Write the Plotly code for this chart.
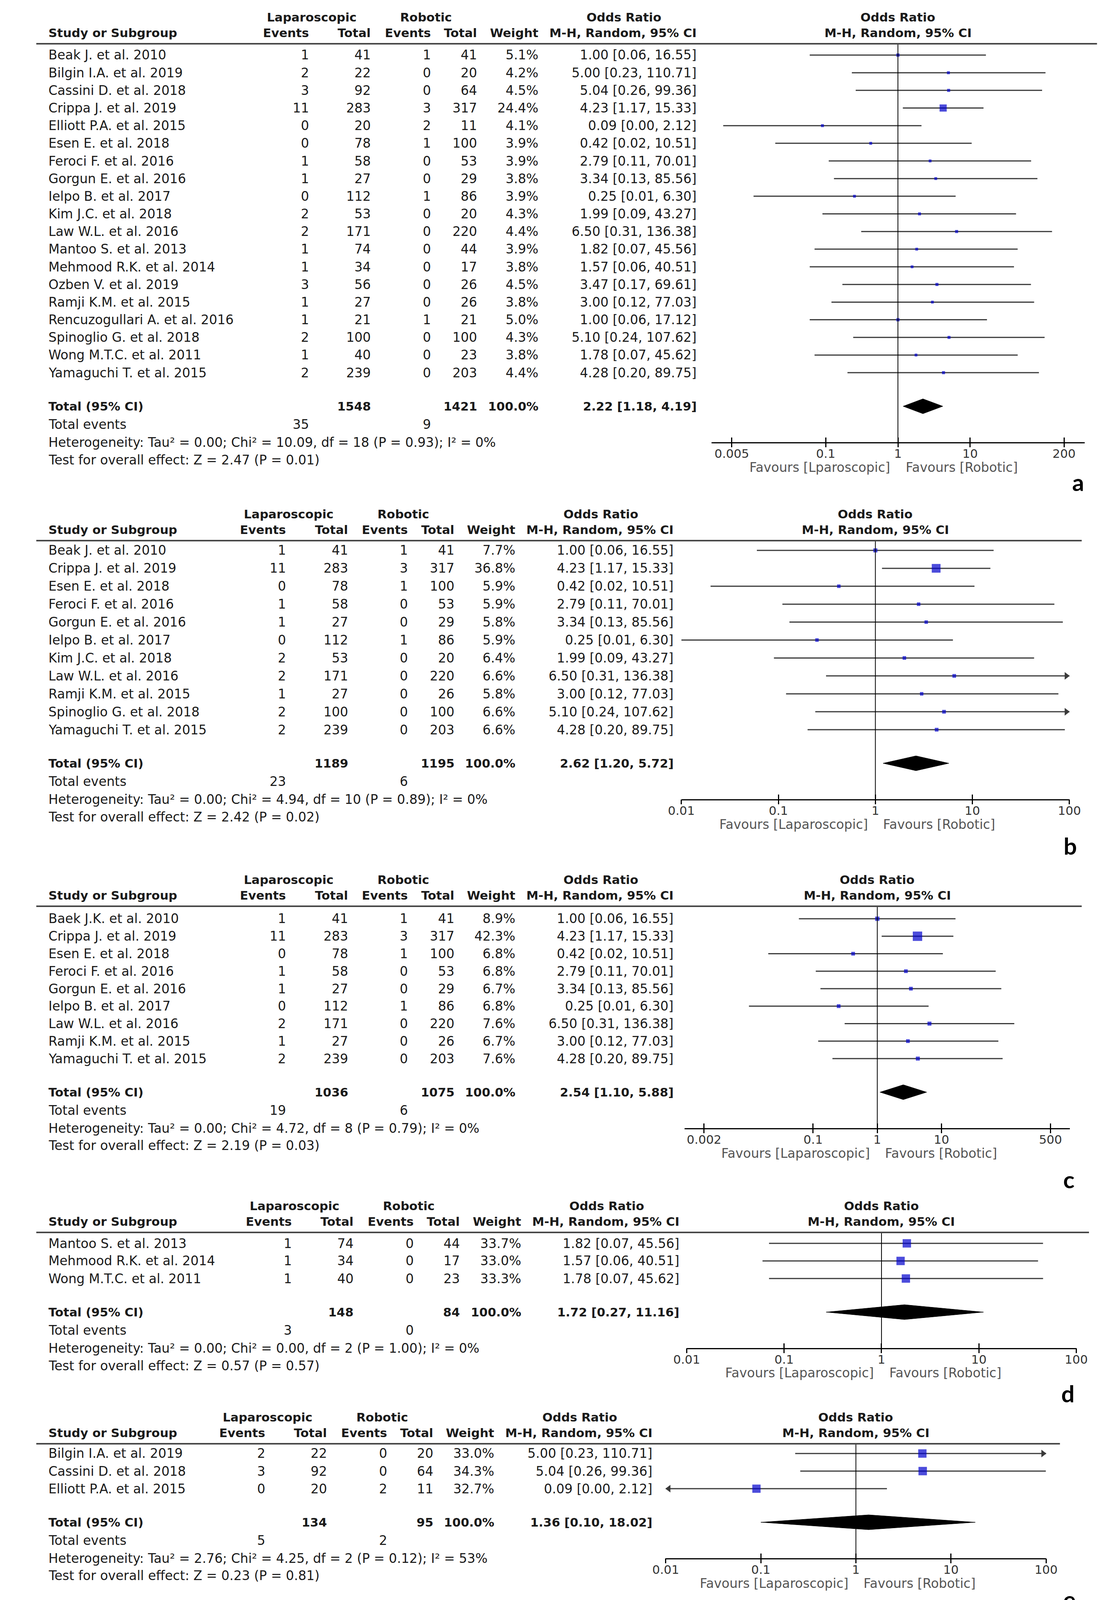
import math
import plotly.graph_objects as go

W, H = 2851, 5619
FONT = "DejaVu Sans"

# ---------------- data: panel a ----------------
a_study = ["Beak J. et al. 2010", "Bilgin I.A. et al. 2019", "Cassini D. et al. 2018", "Crippa J. et al. 2019",
           "Elliott P.A. et al. 2015", "Esen E. et al. 2018", "Feroci F. et al. 2016", "Gorgun E. et al. 2016",
           "Ielpo B. et al. 2017", "Kim J.C. et al. 2018", "Law W.L. et al. 2016", "Mantoo S. et al. 2013",
           "Mehmood R.K. et al. 2014", "Ozben V. et al. 2019", "Ramji K.M. et al. 2015",
           "Rencuzogullari A. et al. 2016", "Spinoglio G. et al. 2018", "Wong M.T.C. et al. 2011",
           "Yamaguchi T. et al. 2015"]
a_lap_events = [1, 2, 3, 11, 0, 0, 1, 1, 0, 2, 2, 1, 1, 3, 1, 1, 2, 1, 2]
a_lap_total = [41, 22, 92, 283, 20, 78, 58, 27, 112, 53, 171, 74, 34, 56, 27, 21, 100, 40, 239]
a_rob_events = [1, 0, 0, 3, 2, 1, 0, 0, 1, 0, 0, 0, 0, 0, 0, 1, 0, 0, 0]
a_rob_total = [41, 20, 64, 317, 11, 100, 53, 29, 86, 20, 220, 44, 17, 26, 26, 21, 100, 23, 203]
a_weight = [5.1, 4.2, 4.5, 24.4, 4.1, 3.9, 3.9, 3.8, 3.9, 4.3, 4.4, 3.9, 3.8, 4.5, 3.8, 5.0, 4.3, 3.8, 4.4]
a_or = [1.00, 5.00, 5.04, 4.23, 0.09, 0.42, 2.79, 3.34, 0.25, 1.99, 6.50, 1.82, 1.57, 3.47, 3.00, 1.00, 5.10, 1.78, 4.28]
a_lo = [0.06, 0.23, 0.26, 1.17, 0.0038, 0.02, 0.11, 0.13, 0.01, 0.09, 0.31, 0.07, 0.06, 0.17, 0.12, 0.06, 0.24, 0.07, 0.20]
a_hi = [16.55, 110.71, 99.36, 15.33, 2.12, 10.51, 70.01, 85.56, 6.30, 43.27, 136.38, 45.56, 40.51, 69.61, 77.03, 17.12, 107.62, 45.62, 89.75]
a_totals = [1548, 1421]
a_total_events = [35, 9]
a_pooled = [2.22, 1.18, 4.19]
a_heterogeneity = "Heterogeneity: Tau² = 0.00; Chi² = 10.09, df = 18 (P = 0.93); I² = 0%"
a_overall = "Test for overall effect: Z = 2.47 (P = 0.01)"
a_ticks = [0.005, 0.1, 1, 10, 200]
a_favours = ["Favours [Lparoscopic]", "Favours [Robotic]"]

# ---------------- data: panel b ----------------
b_study = ["Beak J. et al. 2010", "Crippa J. et al. 2019", "Esen E. et al. 2018", "Feroci F. et al. 2016",
           "Gorgun E. et al. 2016", "Ielpo B. et al. 2017", "Kim J.C. et al. 2018", "Law W.L. et al. 2016",
           "Ramji K.M. et al. 2015", "Spinoglio G. et al. 2018", "Yamaguchi T. et al. 2015"]
b_lap_events = [1, 11, 0, 1, 1, 0, 2, 2, 1, 2, 2]
b_lap_total = [41, 283, 78, 58, 27, 112, 53, 171, 27, 100, 239]
b_rob_events = [1, 3, 1, 0, 0, 1, 0, 0, 0, 0, 0]
b_rob_total = [41, 317, 100, 53, 29, 86, 20, 220, 26, 100, 203]
b_weight = [7.7, 36.8, 5.9, 5.9, 5.8, 5.9, 6.4, 6.6, 5.8, 6.6, 6.6]
b_or = [1.00, 4.23, 0.42, 2.79, 3.34, 0.25, 1.99, 6.50, 3.00, 5.10, 4.28]
b_lo = [0.06, 1.17, 0.02, 0.11, 0.13, 0.01, 0.09, 0.31, 0.12, 0.24, 0.20]
b_hi = [16.55, 15.33, 10.51, 70.01, 85.56, 6.30, 43.27, 136.38, 77.03, 107.62, 89.75]
b_totals = [1189, 1195]
b_total_events = [23, 6]
b_pooled = [2.62, 1.20, 5.72]
b_heterogeneity = "Heterogeneity: Tau² = 0.00; Chi² = 4.94, df = 10 (P = 0.89); I² = 0%"
b_overall = "Test for overall effect: Z = 2.42 (P = 0.02)"
b_ticks = [0.01, 0.1, 1, 10, 100]
b_favours = ["Favours [Laparoscopic]", "Favours [Robotic]"]

# ---------------- data: panel c ----------------
c_study = ["Baek J.K. et al. 2010", "Crippa J. et al. 2019", "Esen E. et al. 2018", "Feroci F. et al. 2016",
           "Gorgun E. et al. 2016", "Ielpo B. et al. 2017", "Law W.L. et al. 2016", "Ramji K.M. et al. 2015",
           "Yamaguchi T. et al. 2015"]
c_lap_events = [1, 11, 0, 1, 1, 0, 2, 1, 2]
c_lap_total = [41, 283, 78, 58, 27, 112, 171, 27, 239]
c_rob_events = [1, 3, 1, 0, 0, 1, 0, 0, 0]
c_rob_total = [41, 317, 100, 53, 29, 86, 220, 26, 203]
c_weight = [8.9, 42.3, 6.8, 6.8, 6.7, 6.8, 7.6, 6.7, 7.6]
c_or = [1.00, 4.23, 0.42, 2.79, 3.34, 0.25, 6.50, 3.00, 4.28]
c_lo = [0.06, 1.17, 0.02, 0.11, 0.13, 0.01, 0.31, 0.12, 0.20]
c_hi = [16.55, 15.33, 10.51, 70.01, 85.56, 6.30, 136.38, 77.03, 89.75]
c_totals = [1036, 1075]
c_total_events = [19, 6]
c_pooled = [2.54, 1.10, 5.88]
c_heterogeneity = "Heterogeneity: Tau² = 0.00; Chi² = 4.72, df = 8 (P = 0.79); I² = 0%"
c_overall = "Test for overall effect: Z = 2.19 (P = 0.03)"
c_ticks = [0.002, 0.1, 1, 10, 500]
c_favours = ["Favours [Laparoscopic]", "Favours [Robotic]"]

# ---------------- data: panel d ----------------
d_study = ["Mantoo S. et al. 2013", "Mehmood R.K. et al. 2014", "Wong M.T.C. et al. 2011"]
d_lap_events = [1, 1, 1]
d_lap_total = [74, 34, 40]
d_rob_events = [0, 0, 0]
d_rob_total = [44, 17, 23]
d_weight = [33.7, 33.0, 33.3]
d_or = [1.82, 1.57, 1.78]
d_lo = [0.07, 0.06, 0.07]
d_hi = [45.56, 40.51, 45.62]
d_totals = [148, 84]
d_total_events = [3, 0]
d_pooled = [1.72, 0.27, 11.16]
d_heterogeneity = "Heterogeneity: Tau² = 0.00; Chi² = 0.00, df = 2 (P = 1.00); I² = 0%"
d_overall = "Test for overall effect: Z = 0.57 (P = 0.57)"
d_ticks = [0.01, 0.1, 1, 10, 100]
d_favours = ["Favours [Laparoscopic]", "Favours [Robotic]"]

# ---------------- data: panel e ----------------
e_study = ["Bilgin I.A. et al. 2019", "Cassini D. et al. 2018", "Elliott P.A. et al. 2015"]
e_lap_events = [2, 3, 0]
e_lap_total = [22, 92, 20]
e_rob_events = [0, 0, 2]
e_rob_total = [20, 64, 11]
e_weight = [33.0, 34.3, 32.7]
e_or = [5.00, 5.04, 0.09]
e_lo = [0.23, 0.26, 0.0038]
e_hi = [110.71, 99.36, 2.12]
e_totals = [134, 95]
e_total_events = [5, 2]
e_pooled = [1.36, 0.10, 18.02]
e_heterogeneity = "Heterogeneity: Tau² = 2.76; Chi² = 4.25, df = 2 (P = 0.12); I² = 53%"
e_overall = "Test for overall effect: Z = 0.23 (P = 0.81)"
e_ticks = [0.01, 0.1, 1, 10, 100]
e_favours = ["Favours [Laparoscopic]", "Favours [Robotic]"]

# ---------------- data: panel f ----------------
f_study = ["Bilgin I.A. et al. 2019", "Cassini D. et al. 2018", "Crippa J. et al. 2019", "Elliott P.A. et al. 2015",
           "Esen E. et al. 2018", "Feroci F. et al. 2016", "Ielpo B. et al. 2017", "Ozben V. et al. 2019",
           "Spinoglio G. et al. 2018", "Wong M.T.C. et al. 2011", "Yamaguchi T. et al. 2015"]
f_lap_events = [2, 3, 11, 0, 0, 1, 0, 3, 2, 1, 2]
f_lap_total = [22, 92, 283, 20, 78, 58, 112, 56, 100, 40, 239]
f_rob_events = [0, 0, 3, 2, 1, 0, 1, 0, 0, 0, 0]
f_rob_total = [20, 64, 317, 11, 100, 53, 86, 26, 100, 23, 203]
f_weight = [6.4, 6.9, 36.9, 6.2, 5.9, 5.9, 5.9, 6.8, 6.6, 5.8, 6.6]
f_or = [5.00, 5.04, 4.23, 0.09, 0.42, 2.79, 0.25, 3.47, 5.10, 1.78, 4.28]
f_lo = [0.23, 0.26, 1.17, 0.0038, 0.02, 0.11, 0.01, 0.17, 0.24, 0.07, 0.20]
f_hi = [110.71, 99.36, 15.33, 2.12, 10.51, 70.01, 6.30, 69.61, 107.62, 45.62, 89.75]
f_totals = [1100, 1003]
f_total_events = [25, 7]
f_pooled = [2.34, 1.07, 5.11]
f_heterogeneity = "Heterogeneity: Tau² = 0.00; Chi² = 8.85, df = 10 (P = 0.55); I² = 0%"
f_overall = "Test for overall effect: Z = 2.13 (P = 0.03)"
f_ticks = [0.005, 0.1, 1, 10, 200]
f_favours = ["Favours [Laparoscopic]", "Favours [Robotic]"]

# ---------------- data: panel g ----------------
g_study = ["Beak J. et al. 2010", "Ramji K.M. et al. 2015", "Rencuzogullari A. et al. 2016"]
g_lap_events = [1, 1, 1]
g_lap_total = [41, 27, 21]
g_rob_events = [1, 0, 1]
g_rob_total = [41, 26, 21]
g_weight = [36.7, 27.4, 35.8]
g_or = [1.00, 3.00, 1.00]
g_lo = [0.06, 0.12, 0.06]
g_hi = [16.55, 77.03, 17.12]
g_totals = [89, 88]
g_total_events = [3, 2]
g_pooled = [1.35, 0.25, 7.40]
g_heterogeneity = "Heterogeneity: Tau² = 0.32; Chi² = 0.32, df = 2 (P = 0.85); I² = 0%"
g_overall = "Test for overall effect: Z = 0.35 (P = 0.73)"
g_ticks = [0.01, 0.1, 1, 10, 100]
g_favours = ["Favours [Laparoscopic]", "Favours [Robotic]"]

TOTAL_WEIGHT = "100.0%"

# ---------------- layout (pixel geometry per panel) ----------------
panels = [
    dict(name="a", study=a_study, le=a_lap_events, lt=a_lap_total, re=a_rob_events, rt=a_rob_total, w=a_weight,
         orr=a_or, lo=a_lo, hi=a_hi, tot=a_totals, tev=a_total_events, pooled=a_pooled, het=a_heterogeneity,
         test=a_overall, ticks=a_ticks, fav=a_favours,
         L=104, first=133, s=45.17, null=2307, ppd=189, half=(2.582, 2.587), hend=2828, dx=0, letter=(2778, 1226)),
    dict(name="b", study=b_study, le=b_lap_events, lt=b_lap_total, re=b_rob_events, rt=b_rob_total, w=b_weight,
         orr=b_or, lo=b_lo, hi=b_hi, tot=b_totals, tev=b_total_events, pooled=b_pooled, het=b_heterogeneity,
         test=b_overall, ticks=b_ticks, fav=b_favours,
         L=1376, first=1401, s=45.9, null=2248, ppd=254, half=(2.0, 2.0), hend=2788, dx=-60, letter=(2758, 2157)),
    dict(name="c", study=c_study, le=c_lap_events, lt=c_lap_total, re=c_rob_events, rt=c_rob_total, w=c_weight,
         orr=c_or, lo=c_lo, hi=c_hi, tot=c_totals, tev=c_total_events, pooled=c_pooled, het=c_heterogeneity,
         test=c_overall, ticks=c_ticks, fav=c_favours,
         L=2312, first=2344, s=44.75, null=2253, ppd=168, half=(3.0, 3.0), hend=2788, dx=-60, letter=(2754, 3011)),
    dict(name="d", study=d_study, le=d_lap_events, lt=d_lap_total, re=d_rob_events, rt=d_rob_total, w=d_weight,
         orr=d_or, lo=d_lo, hi=d_hi, tot=d_totals, tev=d_total_events, pooled=d_pooled, het=d_heterogeneity,
         test=d_overall, ticks=d_ticks, fav=d_favours,
         L=3147, first=3175, s=45.0, null=2264, ppd=255, half=(2.0, 2.0), hend=2807, dx=-45, letter=(2752, 3559)),
    dict(name="e", study=e_study, le=e_lap_events, lt=e_lap_total, re=e_rob_events, rt=e_rob_total, w=e_weight,
         orr=e_or, lo=e_lo, hi=e_hi, tot=e_totals, tev=e_total_events, pooled=e_pooled, het=e_heterogeneity,
         test=e_overall, ticks=e_ticks, fav=e_favours,
         L=3688, first=3713, s=45.0, null=2197, ppd=249, half=(2.0, 2.0), hend=2731, dx=-115, letter=(2756, 4086)),
    dict(name="f", study=f_study, le=f_lap_events, lt=f_lap_total, re=f_rob_events, rt=f_rob_total, w=f_weight,
         orr=f_or, lo=f_lo, hi=f_hi, tot=f_totals, tev=f_total_events, pooled=f_pooled, het=f_heterogeneity,
         test=f_overall, ticks=f_ticks, fav=f_favours,
         L=4229, first=4258, s=44.8, null=2253, ppd=187, half=(2.7, 2.7), hend=2788, dx=-60, letter=(2746, 5000)),
    dict(name="g", study=g_study, le=g_lap_events, lt=g_lap_total, re=g_rob_events, rt=g_rob_total, w=g_weight,
         orr=g_or, lo=g_lo, hi=g_hi, tot=g_totals, tev=g_total_events, pooled=g_pooled, het=g_heterogeneity,
         test=g_overall, ticks=g_ticks, fav=g_favours,
         L=5132, first=5161, s=45.0, null=2317, ppd=250, half=(2.0, 2.0), hend=2851, dx=0, letter=(2750, 5580)),
]

# column anchors (pixels) for a panel with dx = 0
COL_STUDY = 82
COL_LAP_EV = 768
COL_LAP_TOT = 930
COL_ROB_EV = 1087
COL_ROB_TOT = 1208
COL_WEIGHT = 1368
COL_CI = 1782
HDR_LAP = 773
HDR_ROB = 1072
HDR_OR = 1590

TXT = "#1a1a1a"
BODY = 33
HEAD = 31
fig = go.Figure()
annotations = []
shapes = []
lay = {}


def ann(text, px, py, anchor="left", size=BODY, bold=False, color=TXT, family=FONT):
    if bold:
        text = "<b>" + text + "</b>"
    annotations.append(dict(text=text, x=px / W, xref="paper", y=1 - py / H, yref="paper", xanchor=anchor,
                            yanchor="middle", showarrow=False,
                            font=dict(family=family, size=size, color=color)))


for k, p in enumerate(panels, start=1):
    n = len(p["study"])
    s, first, L, dx = p["s"], p["first"], p["L"], p["dx"]
    null, ppd = p["null"], p["ppd"]
    h0, h1 = p["half"]
    xname = "x" if k == 1 else f"x{k}"
    yname = "y" if k == 1 else f"y{k}"
    oxname = f"x{k + 7}"
    xkey = "xaxis" if k == 1 else f"xaxis{k}"
    ykey = "yaxis" if k == 1 else f"yaxis{k}"
    oxkey = f"xaxis{k + 7}"

    def yv(py):
        return (py - first) / s

    def rowpx(i):
        return first + i * s

    total_py = first + (n - 1) * s + 86
    axis_py = total_py + 92
    y_top, y_bot = yv(L), yv(axis_py)
    xl, xr = null - h0 * ppd, null + h1 * ppd
    xmin, xmax = 10 ** (-h0), 10 ** h1

    # main axis: line, upward tick halves and labels
    lay[xkey] = dict(type="log", domain=[xl / W, xr / W], range=[-h0 - 0.001, h1 + 0.001], anchor=yname,
                     showgrid=False, zeroline=False, showline=True, linecolor="black", linewidth=3,
                     ticks="inside", ticklen=12, tickwidth=3, tickcolor="black", tickmode="array",
                     tickvals=p["ticks"], ticktext=[f"{t:g}" for t in p["ticks"]],
                     tickfont=dict(family=FONT, size=31, color="#333333"), fixedrange=True)
    # overlay axis: downward tick halves
    lay[oxkey] = dict(type="log", domain=[xl / W, xr / W], range=[-h0 - 0.001, h1 + 0.001], anchor=yname,
                      overlaying=xname, showgrid=False, zeroline=False, showline=False,
                      ticks="outside", ticklen=12, tickwidth=3, tickcolor="black", tickmode="array",
                      tickvals=p["ticks"], showticklabels=False, fixedrange=True)
    lay[ykey] = dict(domain=[1 - axis_py / H, 1 - L / H], range=[y_bot, y_top], anchor=xname,
                     visible=False, fixedrange=True)

    rows = list(range(n))
    # null line at OR = 1
    fig.add_trace(go.Scatter(x=[1, 1], y=[y_top, y_bot], mode="lines", xaxis=oxname, yaxis=yname,
                             line=dict(color="black", width=2), hoverinfo="skip", showlegend=False))
    # confidence intervals
    cx, cy, ar_x, ar_y, al_x, al_y = [], [], [], [], [], []
    for i in rows:
        lo = max(p["lo"][i], xmin)
        hi = min(p["hi"][i], xmax)
        cx += [lo, hi, None]
        cy += [i, i, None]
        if p["hi"][i] > xmax:
            ar_x.append(10 ** (h1 - 8 / ppd)); ar_y.append(i)
        if p["lo"][i] < xmin:
            al_x.append(10 ** (-h0 + 8 / ppd)); al_y.append(i)
    fig.add_trace(go.Scatter(x=cx, y=cy, mode="lines", xaxis=xname, yaxis=yname,
                             line=dict(color="#3a3a3a", width=3), hoverinfo="skip", showlegend=False))
    if ar_x:
        fig.add_trace(go.Scatter(x=ar_x, y=ar_y, mode="markers", xaxis=xname, yaxis=yname, cliponaxis=False,
                                 marker=dict(symbol="triangle-right", size=17, color="#3a3a3a", line=dict(width=0)),
                                 hoverinfo="skip", showlegend=False))
    if al_x:
        fig.add_trace(go.Scatter(x=al_x, y=al_y, mode="markers", xaxis=xname, yaxis=yname, cliponaxis=False,
                                 marker=dict(symbol="triangle-left", size=17, color="#3a3a3a", line=dict(width=0)),
                                 hoverinfo="skip", showlegend=False))
    # study squares sized by weight
    fig.add_trace(go.Scatter(x=p["orr"], y=rows, mode="markers", xaxis=xname, yaxis=yname,
                             marker=dict(symbol="square", size=[3.7 * math.sqrt(w) for w in p["w"]],
                                         color="#0000CC", line=dict(width=0)),
                             hoverinfo="skip", showlegend=False))
    # pooled diamond
    yt = yv(total_py)
    hh = 19 / s
    est, plo, phi = p["pooled"]
    fig.add_trace(go.Scatter(x=[plo, est, phi, est, plo], y=[yt, yt - hh, yt, yt + hh, yt], mode="lines",
                             fill="toself", fillcolor="black", line=dict(color="black", width=1),
                             xaxis=xname, yaxis=yname, hoverinfo="skip", showlegend=False))

    # ---- table text ----
    h1y, h2y = L - 68, L - 28
    ann("Laparoscopic", HDR_LAP + dx, h1y, "center", size=HEAD, bold=True)
    ann("Robotic", HDR_ROB + dx, h1y, "center", size=HEAD, bold=True)
    ann("Odds Ratio", HDR_OR + dx, h1y, "center", size=HEAD, bold=True)
    ann("Odds Ratio", null, h1y, "center", size=HEAD, bold=True)
    ann("Study or Subgroup", COL_STUDY, h2y, "left", size=HEAD, bold=True)
    ann("Events", COL_LAP_EV + dx, h2y, "right", size=HEAD, bold=True)
    ann("Total", COL_LAP_TOT + dx, h2y, "right", size=HEAD, bold=True)
    ann("Events", COL_ROB_EV + dx, h2y, "right", size=HEAD, bold=True)
    ann("Total", COL_ROB_TOT + dx, h2y, "right", size=HEAD, bold=True)
    ann("Weight", COL_WEIGHT + dx, h2y, "right", size=HEAD, bold=True)
    ann("M-H, Random, 95% CI", COL_CI + dx, h2y, "right", size=HEAD, bold=True)
    ann("M-H, Random, 95% CI", null, h2y, "center", size=HEAD, bold=True)
    shapes.append(dict(type="line", xref="paper", yref="paper", x0=52 / W, x1=p["hend"] / W,
                       y0=1 - L / H, y1=1 - L / H, line=dict(color="#484848", width=4)))

    for i in rows:
        py = rowpx(i)
        ann(p["study"][i], COL_STUDY, py, "left")
        ann(str(p["le"][i]), COL_LAP_EV + dx, py, "right")
        ann(str(p["lt"][i]), COL_LAP_TOT + dx, py, "right")
        ann(str(p["re"][i]), COL_ROB_EV + dx, py, "right")
        ann(str(p["rt"][i]), COL_ROB_TOT + dx, py, "right")
        ann(f"{p['w'][i]:.1f}%", COL_WEIGHT + dx, py, "right")
        ann(f"{p['orr'][i]:.2f} [{p['lo'][i]:.2f}, {p['hi'][i]:.2f}]", COL_CI + dx, py, "right")

    ann("Total (95% CI)", COL_STUDY, total_py, "left", size=HEAD, bold=True)
    ann(str(p["tot"][0]), COL_LAP_TOT + dx, total_py, "right", size=HEAD, bold=True)
    ann(str(p["tot"][1]), COL_ROB_TOT + dx, total_py, "right", size=HEAD, bold=True)
    ann(TOTAL_WEIGHT, COL_WEIGHT + dx, total_py, "right", size=HEAD, bold=True)
    ann(f"{est:.2f} [{plo:.2f}, {phi:.2f}]", COL_CI + dx, total_py, "right", size=HEAD, bold=True)
    ann("Total events", COL_STUDY, total_py + 46, "left")
    ann(str(p["tev"][0]), COL_LAP_EV + dx, total_py + 46, "right")
    ann(str(p["tev"][1]), COL_ROB_EV + dx, total_py + 46, "right")
    ann(p["het"], COL_STUDY, total_py + 92, "left")
    ann(p["test"], COL_STUDY, total_py + 137, "left")

    ann(p["fav"][0], null - 18, axis_py + 64, "right", size=33, color="#555555")
    ann(p["fav"][1], null + 18, axis_py + 64, "left", size=33, color="#555555")
    lx, ly = p["letter"]
    ann(p["name"], lx, ly, "center", size=60, bold=True, color="black", family="Lato")

fig.update_layout(width=W, height=H, margin=dict(l=0, r=0, t=0, b=0), paper_bgcolor="white",
                  plot_bgcolor="white", showlegend=False, annotations=annotations, shapes=shapes, **lay)
fig.write_html("out.html")
